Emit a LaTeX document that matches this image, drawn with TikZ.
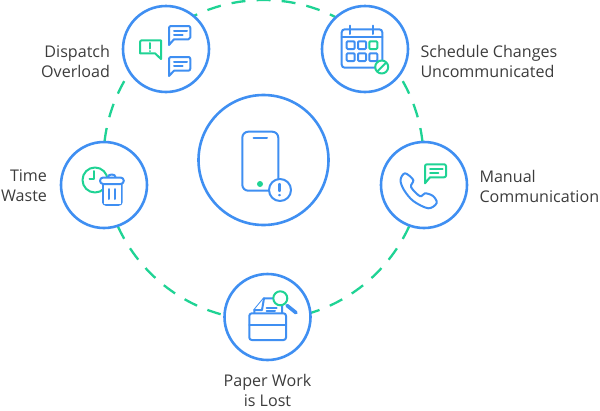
\documentclass[tikz,border=0pt]{standalone}
\usepackage{fontspec}
\setmainfont{Open Sans}
\definecolor{bl}{HTML}{3F8FF2}
\definecolor{gr}{HTML}{1FD394}
\definecolor{tx}{HTML}{3C3C3C}
\tikzset{
  hub/.style={circle,draw=bl,line width=2.6,fill=white,inner sep=0pt,outer sep=0pt,minimum size=#1},
  ico/.style={draw=bl,line width=2,line join=round,line cap=round,fill=white},
  icg/.style={draw=gr,line width=2,line join=round,line cap=round,fill=white},
  lbl/.style={text=tx,font=\fontsize{16.1}{20}\selectfont,inner sep=0pt,align=left},
  ring/.style={draw=gr,line width=2.3pt,dash pattern=on 14pt off 11.133pt,dash phase=7pt}
}
\begin{document}
\begin{tikzpicture}[x=1pt,y=-1pt,line width=1pt]
\useasboundingbox (0,0) rectangle (600,410);
\coordinate (c) at (263.5,160);
\draw[ring] (c) circle[radius=160pt];
\node[hub=86pt] (d) at (166,49) {};
\node[hub=86pt] (s) at (365,49) {};
\node[hub=86pt] (m) at (424,185) {};
\node[hub=86pt] (p) at (267.5,317) {};
\node[hub=86pt] (t) at (104,185) {};
\node[hub=130pt] (h) at (263.5,160) {};
% labels
\node[lbl,anchor=east,align=right] (ld) at (110.5,61) {Dispatch\\Overload};
\node[lbl,anchor=west] (ls) at (420,61) {Schedule Changes\\Uncommunicated};
\node[lbl,anchor=west] (lm) at (479,186) {Manual\\Communication};
\node[lbl,align=center] (lp) at (267.5,390) {Paper Work\\is Lost};
\node[lbl,anchor=east,align=right] (lt) at (47.5,186) {Time\\Waste};
% dispatch icon
\draw[ico] (171,26) -- (188.5,26) to[out=0,in=90] (190.3,28) -- (190.3,37.5) to[out=-90,in=0] (188.5,39.3) -- (174,39.3) -- (169,45) -- (169,28) to[out=90,in=180] (171,26) -- cycle;
\draw[ico] (174,30.7)--(187,30.7) (174,35)--(182.7,35);
\draw[ico] (171,57) -- (188.5,57) to[out=0,in=90] (190.3,59) -- (190.3,68.7) to[out=-90,in=0] (188.5,70.7) -- (174,70.7) -- (169,76) -- (169,59) to[out=90,in=180] (171,57) -- cycle;
\draw[ico] (174,61.7)--(187,61.7) (174,66)--(182.7,66);
\draw[icg] (142,40.3) -- (161,40.3) -- (161,59) -- (155,53.3) -- (140,53.3) -- (140,42) to[out=90,in=180] (142,40.3) -- cycle;
\draw[icg] (150,43)--(150,48.5) (150,51)--(150,51.2);
% schedule icon
\draw[ico,rounded corners=3pt] (341.7,29.3) rectangle (382.3,67.7);
\draw[ico] (341.7,36.7)--(382.3,36.7) (350,25.7)--(350,34) (373.3,25.7)--(373.3,34);
\foreach \x in {346.7,358,369.3} \draw[ico,rounded corners=1pt] (\x,53.3) rectangle +(8,7.7);
\foreach \x in {346.7,358} \draw[ico,rounded corners=1pt] (\x,41.3) rectangle +(8,7.7);
\draw[icg,rounded corners=1pt] (369.3,41.3) rectangle +(8,7.7);
\draw[icg] (381.7,67) circle[radius=6.5pt];
\draw[icg] (377.5,71.2)--(385.9,62.8);
% manual icon
\draw[ico] plot[smooth cycle,tension=.55] coordinates {(405,173.3)(400.5,180)(404,190)(413.3,201)(428.3,208.3)(436.7,203)(433,196)(425,193.3)(420,196.2)(411,187)(413.3,180)};
\draw[icg] (427,164.3) -- (444,164.3) to[out=0,in=90] (446,166) -- (446,175.5) to[out=-90,in=0] (444,177.3) -- (430,177.3) -- (425,183.3) -- (425,166) to[out=90,in=180] (427,164.3) -- cycle;
\draw[icg] (430,169.3)--(442.7,169.3) (430,173.3)--(438.3,173.3);
% paper icon
\draw[ico] (254.3,313) -- (254.3,310) -- (264,298.3) -- (279,298.3) -- (282,301) -- (282,313);
\draw[ico] (254.3,310) -- (262,310) -- (264,298.3);
\draw[ico] (266.7,307.7)--(276.7,307.7) (266.7,311)--(275,311);
\draw[ico,rounded corners=2.5pt] (249.3,313.3) rectangle (286,340);
\draw[ico] (249.3,325)--(286,325);
\draw[draw=bl,line width=3.6,line cap=round] (287,305.5)--(296,312.7);
\draw[icg,fill=white] (280.3,298.3) circle[radius=7pt];
% time icon
\draw[icg] (95,180) circle[radius=12.5pt];
\draw[draw=gr,line width=2,line cap=round,line join=round] (94.3,171)--(94.3,179)--(89.5,179);
\draw[ico] (103,184) -- (103,202) to[out=-90,in=180] (106,204.8) -- (118.7,204.8) to[out=0,in=-90] (121.7,202) -- (121.7,184);
\fill[white] (103.8,184) rectangle (120.9,204);
\draw[ico,rounded corners=3.2pt] (100,177.5) rectangle (123.8,184);
\draw[ico,fill=none] (108,177) to[out=90,in=180] (111.8,174.5) to[out=0,in=90] (115.5,177);
\draw[ico] (109.3,189)--(109.3,199) (115.3,189)--(115.3,199);
% centre icon
\draw[ico,rounded corners=6pt] (242.3,131.7) rectangle (278.3,190.7);
\draw[ico] (253.5,138.3)--(267,138.3);
\fill[gr] (260,184) circle[radius=3pt];
\draw[ico] (280,190) circle[radius=11pt];
\draw[ico,line width=2.4] (279.6,184)--(279.6,191) (279.6,195)--(279.6,195.2);
\end{tikzpicture}
\end{document}
